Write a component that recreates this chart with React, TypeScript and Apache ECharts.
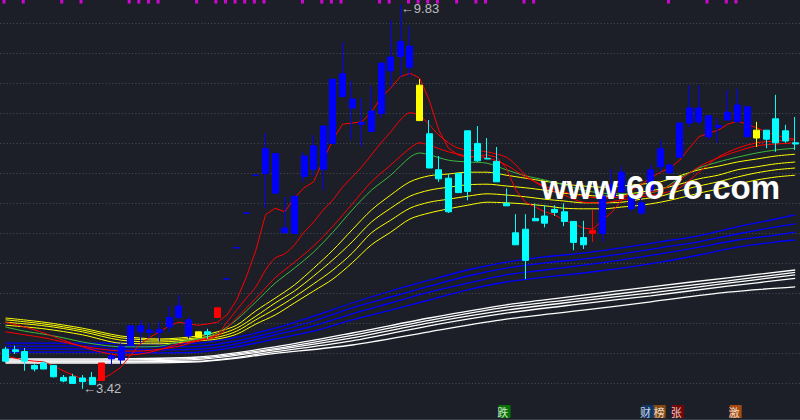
import React, { useEffect, useRef } from 'react';
import * as echarts from 'echarts';

// ---- candles (price) ----
const categories: string[] = Array.from({ length: 83 }, (_, i) => String(i + 1));
const opens = [4.08,4.07,4.04,3.81,3.85,3.81,3.61,3.62,3.60,3.61,3.56,3.92,3.90,4.14,4.37,4.36,4.36,4.45,4.61,4.57,4.28,4.37,4.61,5.25,5.77,6.35,6.98,7.01,7.34,6.02,6.01,6.96,7.08,7.08,7.51,8.67,8.10,7.83,7.71,8.01,8.72,8.96,9.13,8.48,7.67,7.07,6.93,7.01,7.72,7.51,7.26,7.21,6.51,6.02,6.08,6.26,6.30,6.41,6.37,6.21,5.94,6.01,6.01,6.62,6.70,6.65,6.35,6.73,7.12,7.15,7.28,7.85,8.10,7.97,7.78,7.90,7.87,8.12,7.60,7.73,7.92,7.72,7.52];
const closes = [3.88,4.04,3.88,3.75,3.75,3.62,3.55,3.51,3.54,3.49,3.85,3.97,4.12,4.47,4.47,4.40,4.41,4.61,4.80,4.30,4.37,4.33,4.77,5.25,5.77,6.35,6.98,7.42,6.68,6.10,6.63,7.30,7.47,7.80,8.58,8.29,8.25,7.86,8.05,8.85,8.95,9.21,8.78,7.89,7.10,6.92,6.37,6.69,6.71,7.22,7.25,6.87,6.47,5.82,5.56,6.22,6.18,6.36,6.21,5.86,5.82,6.06,6.63,6.82,7.03,6.42,6.52,7.07,7.42,7.02,7.85,8.10,7.87,7.62,7.81,8.03,8.15,7.62,7.73,7.58,7.52,7.55,7.50];
const lows = [3.88,4.00,3.72,3.71,3.75,3.61,3.53,3.51,3.42,3.49,3.56,3.82,3.83,4.14,4.18,4.26,4.21,4.37,4.58,4.26,4.28,4.25,4.61,5.25,5.77,6.35,6.98,6.43,6.68,6.02,6.01,6.87,6.96,6.73,7.51,8.29,7.57,7.46,7.71,7.93,8.45,8.62,8.62,7.89,7.10,6.87,6.35,6.69,6.56,7.20,7.25,6.87,6.47,5.82,5.25,6.22,6.11,6.30,6.13,5.73,5.75,5.87,5.87,6.60,6.70,6.37,6.32,6.70,7.03,7.00,7.28,7.78,7.82,7.57,7.52,7.90,7.87,7.62,7.45,7.43,7.37,7.52,7.40];
const highs = [4.12,4.14,4.10,3.83,3.88,3.81,3.65,3.67,3.65,3.70,3.85,4.00,4.18,4.47,4.57,4.52,4.54,4.80,4.98,4.63,4.37,4.42,4.77,5.25,5.77,6.35,6.98,7.68,7.34,6.62,6.63,7.37,7.65,7.80,8.58,9.20,8.55,8.27,8.47,8.85,9.56,9.83,9.47,8.58,7.90,7.30,7.00,7.01,7.72,7.80,7.60,7.45,6.76,6.33,6.33,6.51,6.48,6.48,6.51,6.21,6.22,6.40,6.70,7.08,7.13,6.73,6.68,7.15,7.57,7.17,7.85,8.48,8.48,7.97,7.93,8.40,8.42,8.12,7.87,7.73,8.32,7.82,7.95];
const candleKind = 'ccccccccccrbbbbbbbbbycrbbbbbbbbbbbbbbbbbbbbycccccccccccccccccrbbbbbbbbbbbbbbbbycccc';

// ---- moving averages: [candle index, price] ----
const red1Line = [[0,3.97],[1,3.93],[2,3.90],[3,3.88],[4,3.87],[5,3.80],[6,3.72],[7,3.65],[8,3.58],[9,3.55],[10,3.58],[11,3.67],[12,3.78],[13,3.98],[14,4.17],[15,4.28],[16,4.37],[17,4.47],[18,4.53],[19,4.50],[20,4.48],[21,4.50],[22,4.53],[23,4.65],[24,4.90],[25,5.28],[26,5.73],[27,6.32],[28,6.43],[29,6.37],[30,6.60],[31,6.77],[32,6.87],[33,7.23],[34,7.57],[35,7.83],[36,7.85],[37,7.87],[38,8.03],[39,8.28],[40,8.43],[41,8.62],[42,8.68],[43,8.60],[44,8.23],[45,7.73],[46,7.43],[47,7.32],[48,7.27],[49,7.30],[50,7.32],[51,7.28],[52,7.10],[53,6.73],[54,6.53],[55,6.45],[56,6.37],[57,6.32],[58,6.23],[59,6.17],[60,6.10],[61,6.08],[62,6.23],[63,6.37],[64,6.57],[65,6.73],[66,6.83],[67,6.93],[68,7.03],[69,7.10],[70,7.23],[71,7.43],[72,7.62],[73,7.68],[74,7.73],[75,7.83],[76,7.88],[77,7.83],[78,7.77],[79,7.70],[80,7.65],[81,7.60],[82,7.58]];
const red2Line = [[0,4.53],[2,4.45],[4,4.35],[6,4.23],[8,4.12],[10,4.03],[12,3.98],[14,4.00],[16,4.07],[18,4.17],[20,4.23],[22,4.33],[23,4.53],[24,4.73],[25,4.93],[26,5.12],[27,5.40],[28,5.60],[29,5.67],[30,5.82],[31,6.03],[32,6.20],[33,6.40],[34,6.57],[35,6.78],[36,6.95],[37,7.12],[38,7.32],[39,7.52],[40,7.70],[41,7.90],[42,8.02],[43,7.98],[44,7.82],[45,7.65],[46,7.52],[47,7.43],[48,7.40],[50,7.37],[52,7.28],[53,7.15],[54,6.98],[56,6.77],[58,6.65],[60,6.53],[62,6.52],[64,6.57],[66,6.62],[68,6.67],[70,6.77],[72,7.03],[74,7.28],[76,7.43],[78,7.52],[80,7.55],[82,7.57]];
const red3Line = [[0,4.37],[2,4.32],[4,4.27],[6,4.20],[8,4.13],[10,4.08],[12,4.05],[14,4.05],[16,4.08],[18,4.13],[20,4.22],[22,4.30],[24,4.60],[26,4.93],[28,5.27],[30,5.53],[32,5.80],[34,6.13],[36,6.50],[38,6.87],[40,7.15],[42,7.43],[43,7.52],[44,7.48],[46,7.37],[48,7.30],[50,7.27],[52,7.15],[54,6.95],[56,6.80],[58,6.70],[60,6.63],[62,6.60],[64,6.62],[66,6.67],[68,6.73],[70,6.90],[72,7.12],[74,7.27],[76,7.38],[78,7.47],[80,7.50],[82,7.52]];
const greenLine = [[0,4.45],[2,4.38],[4,4.33],[6,4.27],[8,4.20],[10,4.15],[12,4.12],[14,4.12],[16,4.13],[18,4.20],[20,4.25],[22,4.35],[24,4.57],[26,4.87],[28,5.18],[30,5.43],[32,5.70],[34,6.03],[36,6.40],[38,6.73],[40,6.98],[42,7.28],[43,7.35],[44,7.32],[46,7.23],[48,7.20],[50,7.18],[52,7.07],[54,6.97],[56,6.90],[58,6.82],[60,6.73],[62,6.68],[64,6.67],[66,6.67],[68,6.73],[70,6.93],[72,7.10],[74,7.20],[76,7.28],[78,7.35],[80,7.40],[82,7.43]];
const yellowIdx = [0,4,8,12,16,20,22,24,26,28,30,32,34,36,38,40,42,44,46,48,50,52,54,56,58,60,62,64,66,68,70,72,74,76,78,80,82];
const yellow1 = [4.60,4.53,4.43,4.30,4.25,4.30,4.37,4.48,4.72,4.93,5.15,5.43,5.73,6.07,6.40,6.65,6.87,6.97,7.00,7.03,7.03,6.98,6.93,6.88,6.83,6.80,6.78,6.80,6.83,6.87,6.97,7.07,7.13,7.20,7.25,7.30,7.33];
const yellow2 = [4.57,4.50,4.40,4.27,4.23,4.27,4.32,4.43,4.63,4.85,5.05,5.30,5.57,5.87,6.20,6.43,6.63,6.73,6.78,6.82,6.83,6.80,6.77,6.73,6.68,6.65,6.63,6.65,6.70,6.75,6.83,6.92,6.98,7.07,7.12,7.17,7.20];
const yellow3 = [4.53,4.47,4.37,4.23,4.20,4.25,4.28,4.38,4.57,4.75,4.95,5.17,5.40,5.68,6.02,6.23,6.43,6.53,6.58,6.63,6.67,6.65,6.62,6.58,6.55,6.52,6.52,6.53,6.58,6.63,6.72,6.80,6.87,6.95,7.02,7.07,7.10];
const yellow4 = [4.48,4.42,4.32,4.18,4.17,4.22,4.25,4.33,4.50,4.65,4.85,5.05,5.25,5.52,5.82,6.03,6.25,6.35,6.42,6.48,6.53,6.52,6.50,6.47,6.43,6.42,6.42,6.45,6.48,6.53,6.60,6.68,6.75,6.83,6.90,6.95,6.98];
const blueIdx = [0,10,16,20,24,28,32,36,40,44,48,52,56,60,64,68,72,76,80,82];
const blue1 = [4.18,4.18,4.17,4.18,4.28,4.43,4.63,4.85,5.05,5.23,5.40,5.53,5.62,5.68,5.77,5.87,5.97,6.12,6.25,6.32];
const blue2 = [4.13,4.13,4.12,4.13,4.22,4.37,4.55,4.77,4.95,5.13,5.30,5.43,5.52,5.58,5.67,5.77,5.87,6.00,6.12,6.17];
const blue3 = [4.08,4.08,4.07,4.08,4.17,4.32,4.47,4.67,4.85,5.03,5.18,5.32,5.40,5.48,5.57,5.67,5.78,5.90,5.98,6.03];
const blue4 = [4.03,4.03,4.02,4.03,4.12,4.25,4.38,4.57,4.73,4.90,5.07,5.20,5.28,5.35,5.43,5.53,5.65,5.78,5.87,5.90];
const whiteIdx = [0,10,20,28,36,44,52,60,67,75,82];
const white1 = [3.92,3.92,3.95,4.12,4.35,4.60,4.82,4.98,5.12,5.27,5.40];
const white2 = [3.90,3.90,3.93,4.09,4.31,4.56,4.78,4.93,5.07,5.22,5.36];
const white3 = [3.88,3.88,3.91,4.07,4.27,4.52,4.73,4.89,5.02,5.18,5.32];
const white4 = [3.87,3.87,3.88,4.04,4.22,4.47,4.68,4.84,4.97,5.13,5.26];
const white5 = [3.85,3.85,3.87,4.01,4.15,4.37,4.58,4.73,4.87,5.03,5.12];

// ---- signals ----
const topSignalIdx = [0,2,6,8,13,14,15,16,20,22,23,24,25,26,27,31,33,34,35,39,40,42,43,44,45,47,49,50,54,55,69,73,75,76];
const bottomSignalIdx = [52, 67, 68, 70, 76];
const bottomSignalText = ['跌', '财', '榜', '张', '激'];
const extremeIdx = [41, 8];
const extremeVal = [9.83, 3.42];

const KIND_COLOR: Record<string, string> = { c: '#00ffff', b: '#0000ff', r: '#ff0000', y: '#ffff00' };
const BOTTOM_BG = ['#008a00', '#0d3c7a', '#a0520e', '#8a0000', '#c8560e'];
const BOTTOM_SHIFT = [-1.7, -2.6, -0.6, -1.7, -1.7];

const Y_MIN = 2.9;
const Y_MAX = 9.9;

function pairs(idx: number[], vals: number[]) {
  return idx.map((i, k) => [i, vals[k]]);
}

export default function App() {
  const ref = useRef<HTMLDivElement>(null);
  useEffect(() => {
    if (!ref.current) return;
    const chart = echarts.init(ref.current, null, { renderer: 'svg' });
    const candleData = opens.map((o, i) => {
      const col = KIND_COLOR[candleKind[i]];
      return {
        value: [o, closes[i], lows[i], highs[i]],
        itemStyle: { color: col, color0: col, borderColor: col, borderColor0: col, borderColorDoji: col, borderWidth: 1 },
      };
    });
    const line = (name: string, data: any[], color: string, width = 1, smooth: any = false) => ({
      name, type: 'line', data, xAxisIndex: 0, yAxisIndex: 0, symbol: 'none', showSymbol: false,
      smooth, silent: true, z: 2, lineStyle: { color, width }, animation: false,
    });
    const option: any = {
      animation: false,
      backgroundColor: '#1c1f27',
      grid: [
        { left: 0.66, top: 0, width: 803.44, height: 420 },
        { left: 0, top: 23.5, width: 800, height: 360 },
      ],
      xAxis: [
        { type: 'category', data: categories, boundaryGap: true, gridIndex: 0, show: false },
        { type: 'value', gridIndex: 1, show: false, min: 0, max: 1 },
      ],
      yAxis: [
        { type: 'value', gridIndex: 0, min: Y_MIN, max: Y_MAX, show: false },
        {
          type: 'value', gridIndex: 1, min: 0, max: 12, interval: 1, show: true,
          axisLine: { show: false }, axisTick: { show: false }, axisLabel: { show: false },
          splitLine: { show: true, lineStyle: { color: '#4a4e59', type: [1, 2.3], width: 1 } },
        },
      ],
      series: [
        line('W1', pairs(whiteIdx, white1), '#ffffff', 1.3, 0.3),
        line('W2', pairs(whiteIdx, white2), '#ffffff', 1.3, 0.3),
        line('W3', pairs(whiteIdx, white3), '#ffffff', 1.3, 0.3),
        line('W4', pairs(whiteIdx, white4), '#ffffff', 1.3, 0.3),
        line('W5', pairs(whiteIdx, white5), '#ffffff', 1.3, 0.3),
        line('B1', pairs(blueIdx, blue1), '#0000ff', 1.3, 0.3),
        line('B2', pairs(blueIdx, blue2), '#0000ff', 1.3, 0.3),
        line('B3', pairs(blueIdx, blue3), '#0000ff', 1.3, 0.3),
        line('B4', pairs(blueIdx, blue4), '#0000ff', 1.3, 0.3),
        line('Y4', pairs(yellowIdx, yellow4), '#ffff00', 1, 0.3),
        line('Y3', pairs(yellowIdx, yellow3), '#ffff00', 1, 0.3),
        line('Y2', pairs(yellowIdx, yellow2), '#ffff00', 1, 0.3),
        line('Y1', pairs(yellowIdx, yellow1), '#ffff00', 1, 0.3),
        line('G', greenLine, '#3cba3c', 1, 0.3),
        line('R3', red3Line, '#ff0000', 1, 0.3),
        line('R2', red2Line, '#ff0000', 1, 0.3),
        line('R1', red1Line, '#ff0000', 1, false),
        {
          name: 'K', type: 'candlestick', xAxisIndex: 0, yAxisIndex: 0, data: candleData,
          barWidth: 6.5, z: 3, silent: true, animation: false,
        },
        {
          name: 'top', type: 'scatter', xAxisIndex: 0, yAxisIndex: 0, z: 4, silent: true,
          symbol: 'rect', symbolSize: [3, 3.5], symbolOffset: [-1.5, 0],
          itemStyle: { color: '#ff00ff' },
          data: topSignalIdx.map((i) => [i, Y_MAX - 1.75 / 60]),
        },
        {
          name: 'bottom', type: 'scatter', xAxisIndex: 0, yAxisIndex: 0, z: 4, silent: true,
          symbol: 'rect', symbolSize: [12, 13],
          data: bottomSignalIdx.map((i, k) => ({
            value: [i, Y_MAX - 411.5 / 60],
            symbolOffset: [BOTTOM_SHIFT[k], 0],
            itemStyle: { color: BOTTOM_BG[k] },
            label: {
              show: true, position: 'inside', formatter: bottomSignalText[k], color: '#ffffff',
              fontSize: 11, fontFamily: '"Noto Sans CJK SC"', offset: [BOTTOM_SHIFT[k], 0],
            },
          })),
        },
        {
          name: 'extremes', type: 'scatter', xAxisIndex: 0, yAxisIndex: 0, z: 5, silent: true,
          symbolSize: 1, itemStyle: { color: 'rgba(0,0,0,0)' },
          data: extremeIdx.map((i, k) => ({
            value: [i, extremeVal[k]],
            label: {
              show: true, position: 'right', distance: 0,
              formatter: '←' + extremeVal[k].toFixed(2), color: '#e6e6e6',
              fontSize: 13, fontFamily: '"Liberation Sans"', offset: k === 0 ? [0, 4] : [0, 0],
            },
          })),
        },
      ],
      graphic: [
        { type: 'line', z: 1, shape: { x1: 0, y1: 419.5, x2: 800, y2: 419.5 }, style: { stroke: '#3b3f49', lineWidth: 1 } },
        {
          type: 'text', z: 100, x: 541, y: 187,
          style: {
            text: 'www.6o7o.com', fill: '#ffffff', font: 'bold 33px "Liberation Sans"',
            textAlign: 'left', textVerticalAlign: 'middle', align: 'left', verticalAlign: 'middle',
          },
        },
      ],
    };
    chart.setOption(option);
    return () => chart.dispose();
  }, []);
  return <div ref={ref} style={{ position: 'absolute', left: 0, top: 0, width: 800, height: 420 }} />;
}
